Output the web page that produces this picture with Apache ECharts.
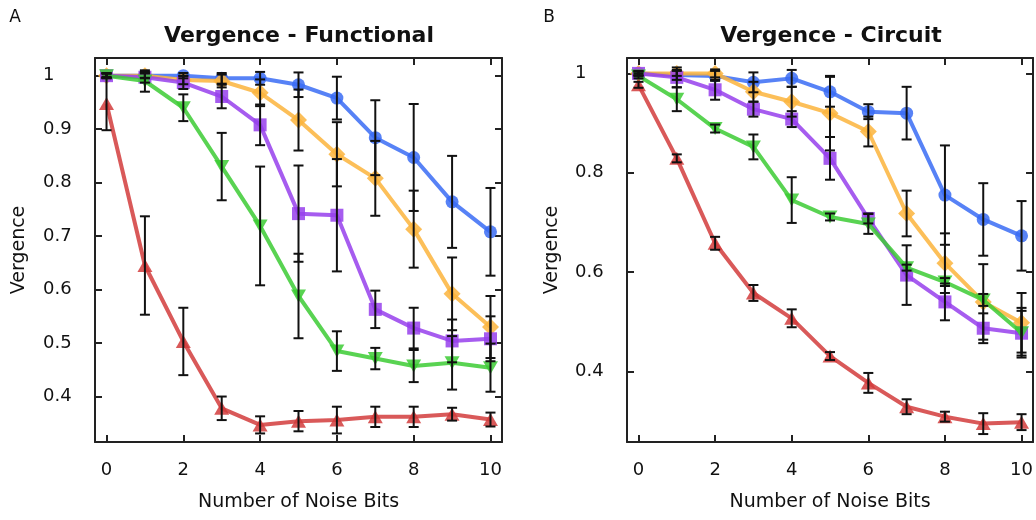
<!DOCTYPE html>
<html>
<head>
<meta charset="utf-8">
<script src="https://cdn.jsdelivr.net/npm/echarts@6/dist/echarts.min.js"></script>
<style>
  html, body { margin: 0; padding: 0; background: #fff; }
  #main { width: 1036px; height: 520px; }
</style>
</head>
<body>
<div id="main"></div>
<script>
// x: number of noise bits
var noiseBits = [0, 1, 2, 3, 4, 5, 6, 7, 8, 9, 10];
var xTicks = [0, 2, 4, 6, 8, 10];
var yTicksFunc = [0.4, 0.5, 0.6, 0.7, 0.8, 0.9, 1];
var yTicksCirc = [0.4, 0.6, 0.8, 1];

// 面板 A: Functional
var funcBlue = [1.0, 1.0, 1.0, 0.995, 0.995, 0.983, 0.958, 0.884, 0.847, 0.764, 0.708];
var funcBlueErr = [0.004, 0.004, 0.005, 0.01, 0.012, 0.023, 0.04, 0.07, 0.1, 0.086, 0.082];
var funcOrange = [1.0, 1.0, 0.992, 0.99, 0.968, 0.917, 0.853, 0.808, 0.713, 0.592, 0.53];
var funcOrangeErr = [0.004, 0.005, 0.008, 0.012, 0.025, 0.057, 0.06, 0.07, 0.072, 0.068, 0.058];
var funcPurple = [1.0, 0.997, 0.987, 0.961, 0.908, 0.742, 0.739, 0.563, 0.528, 0.504, 0.508];
var funcPurpleErr = [0.004, 0.01, 0.012, 0.022, 0.038, 0.09, 0.105, 0.035, 0.038, 0.04, 0.042];
var funcGreen = [1.0, 0.99, 0.94, 0.83, 0.719, 0.588, 0.485, 0.471, 0.457, 0.463, 0.454];
var funcGreenErr = [0.005, 0.02, 0.025, 0.063, 0.111, 0.079, 0.037, 0.02, 0.03, 0.05, 0.045];
var funcRed = [0.948, 0.645, 0.503, 0.378, 0.347, 0.354, 0.356, 0.362, 0.362, 0.367, 0.357];
var funcRedErr = [0.05, 0.092, 0.063, 0.022, 0.016, 0.019, 0.025, 0.019, 0.019, 0.012, 0.013];

// 面板 B: Circuit
var circBlue = [1.0, 0.997, 0.995, 0.982, 0.99, 0.963, 0.923, 0.92, 0.755, 0.706, 0.673];
var circBlueErr = [0.004, 0.01, 0.01, 0.02, 0.017, 0.03, 0.015, 0.053, 0.1, 0.073, 0.07];
var circOrange = [1.0, 1.0, 1.0, 0.963, 0.943, 0.92, 0.883, 0.718, 0.618, 0.54, 0.498];
var circOrangeErr = [0.004, 0.005, 0.008, 0.02, 0.03, 0.075, 0.03, 0.046, 0.06, 0.076, 0.06];
var circPurple = [1.0, 0.992, 0.967, 0.928, 0.908, 0.829, 0.708, 0.594, 0.54, 0.487, 0.477];
var circPurpleErr = [0.005, 0.02, 0.02, 0.015, 0.016, 0.043, 0.01, 0.06, 0.037, 0.03, 0.045];
var circGreen = [0.995, 0.948, 0.889, 0.852, 0.745, 0.711, 0.697, 0.609, 0.58, 0.544, 0.478];
var circGreenErr = [0.005, 0.024, 0.008, 0.025, 0.046, 0.007, 0.02, 0.006, 0.008, 0.012, 0.05];
var circRed = [0.977, 0.829, 0.658, 0.558, 0.507, 0.431, 0.377, 0.329, 0.309, 0.295, 0.298];
var circRedErr = [0.006, 0.008, 0.013, 0.016, 0.018, 0.008, 0.02, 0.015, 0.01, 0.021, 0.016];

var colors = {
    blue: '#3a6cf4',
    orange: '#fbb43c',
    purple: '#9640ec',
    green: '#3ccb34',
    red: '#d23c3c'
};

var FONT = 'DejaVu Sans';

var chart = echarts.init(document.getElementById('main'), null, {renderer: 'canvas'});

function lineSeries(values, color, symbol, size, rotate, idx, z) {
    return {
        type: 'line',
        xAxisIndex: idx,
        yAxisIndex: idx,
        data: values.map(function (v, i) { return [noiseBits[i], v]; }),
        symbol: symbol,
        symbolSize: size,
        symbolRotate: rotate,
        showAllSymbol: true,
        color: color,
        lineStyle: {width: 4, opacity: 0.85},
        itemStyle: {opacity: 0.85},
        z: z,
        silent: true
    };
}

// 误差线
function errRenderItem(params, api) {
    var x = api.value(0);
    var top = api.coord([x, api.value(2)]);
    var bot = api.coord([x, api.value(1)]);
    var hw = 5;
    var st = {stroke: '#111', lineWidth: 2};
    return {
        type: 'group',
        children: [
            {type: 'line', shape: {x1: top[0], y1: top[1], x2: bot[0], y2: bot[1]}, style: st},
            {type: 'line', shape: {x1: top[0] - hw, y1: top[1], x2: top[0] + hw, y2: top[1]}, style: st},
            {type: 'line', shape: {x1: bot[0] - hw, y1: bot[1], x2: bot[0] + hw, y2: bot[1]}, style: st}
        ]
    };
}

function errSeries(values, errs, idx) {
    return {
        type: 'custom',
        xAxisIndex: idx,
        yAxisIndex: idx,
        renderItem: errRenderItem,
        encode: {x: 0, y: [1, 2]},
        data: values.map(function (v, i) { return [noiseBits[i], v - errs[i], v + errs[i]]; }),
        z: 10,
        silent: true
    };
}

function xAxisPair(gridIndex) {
    var base = {
        type: 'value', gridIndex: gridIndex, min: -0.3, max: 10.3,
        axisLine: {show: true, onZero: false, lineStyle: {color: '#222', width: 2}},
        axisTick: {show: true, inside: true, length: 7, customValues: xTicks, lineStyle: {color: '#222', width: 2}},
        splitLine: {show: false}
    };
    var bottom = Object.assign({}, base, {
        position: 'bottom',
        name: 'Number of Noise Bits',
        nameLocation: 'middle',
        nameGap: 51,
        nameTextStyle: {fontFamily: FONT, fontSize: 19, color: '#111'},
        axisLabel: {show: true, customValues: xTicks, margin: 19, fontFamily: FONT, fontSize: 18, color: '#111'}
    });
    var top = Object.assign({}, base, {position: 'top', axisLabel: {show: false}});
    return [bottom, top];
}

function yAxisPair(gridIndex, min, max, ticks, gap, margin) {
    var base = {
        type: 'value', gridIndex: gridIndex, min: min, max: max,
        axisLine: {show: true, onZero: false, lineStyle: {color: '#222', width: 2}},
        axisTick: {show: true, inside: true, length: 7, customValues: ticks, lineStyle: {color: '#222', width: 2}},
        splitLine: {show: false}
    };
    var left = Object.assign({}, base, {
        position: 'left',
        name: 'Vergence',
        nameLocation: 'middle',
        nameGap: gap,
        nameTextStyle: {fontFamily: FONT, fontSize: 19, color: '#111'},
        axisLabel: {
            show: true, customValues: ticks, margin: margin, align: 'left',
            fontFamily: FONT, fontSize: 18, color: '#111',
            formatter: function (v) { return v === 1 ? '1' : v.toFixed(1); }
        }
    });
    var right = Object.assign({}, base, {position: 'right', axisLabel: {show: false}});
    return [left, right];
}

// 轴索引: 0/1 = A 下/上, 2/3 = B 下/上
var xAxes = xAxisPair(0).concat(xAxisPair(1));
var yAxes = yAxisPair(0, 0.315, 1.033, yTicksFunc, 66, 52)
    .concat(yAxisPair(1, 0.258, 1.031, yTicksCirc, 65, 52));

var series = [];
[
    {idx: 0, sets: [
        [funcBlue, funcBlueErr, colors.blue, 'circle', 13, 0],
        [funcOrange, funcOrangeErr, colors.orange, 'diamond', 17, 0],
        [funcPurple, funcPurpleErr, colors.purple, 'rect', 13, 0],
        [funcGreen, funcGreenErr, colors.green, 'triangle', [15, 13], 180],
        [funcRed, funcRedErr, colors.red, 'triangle', [15, 13], 0]
    ]},
    {idx: 2, sets: [
        [circBlue, circBlueErr, colors.blue, 'circle', 13, 0],
        [circOrange, circOrangeErr, colors.orange, 'diamond', 17, 0],
        [circPurple, circPurpleErr, colors.purple, 'rect', 13, 0],
        [circGreen, circGreenErr, colors.green, 'triangle', [15, 13], 180],
        [circRed, circRedErr, colors.red, 'triangle', [15, 13], 0]
    ]}
].forEach(function (panel) {
    panel.sets.forEach(function (s, k) {
        series.push(lineSeries(s[0], s[2], s[3], s[4], s[5], panel.idx, 2 + k));
    });
    panel.sets.forEach(function (s) {
        series.push(errSeries(s[0], s[1], panel.idx));
    });
});

var option = {
    animation: false,
    backgroundColor: '#fff',
    grid: [
        {left: 95, top: 58, width: 407, height: 384},
        {left: 627, top: 58, width: 407, height: 384}
    ],
    xAxis: xAxes,
    yAxis: yAxes,
    series: series,
    graphic: [
        {type: 'text', x: 15, y: 18, style: {text: 'A', font: '17px ' + FONT, fill: '#111', textAlign: 'center', textVerticalAlign: 'middle'}},
        {type: 'text', x: 549, y: 18, style: {text: 'B', font: '17px ' + FONT, fill: '#111', textAlign: 'center', textVerticalAlign: 'middle'}},
        {type: 'text', x: 299, y: 36, style: {text: 'Vergence - Functional', font: 'bold 22px ' + FONT, fill: '#111', textAlign: 'center', textVerticalAlign: 'middle'}},
        {type: 'text', x: 831, y: 36, style: {text: 'Vergence - Circuit', font: 'bold 22px ' + FONT, fill: '#111', textAlign: 'center', textVerticalAlign: 'middle'}}
    ]
};

chart.setOption(option);
</script>
</body>
</html>
